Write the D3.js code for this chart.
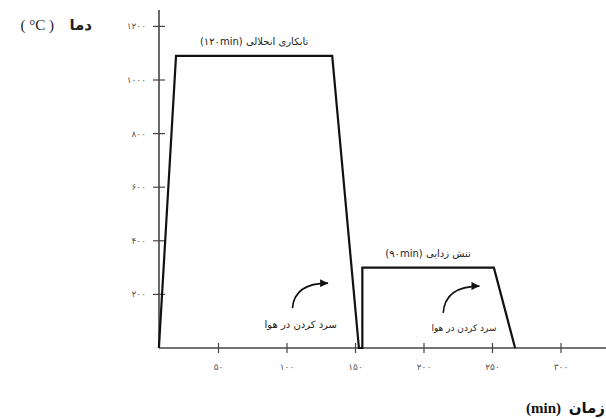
<!DOCTYPE html>
<html>
<head>
<meta charset="utf-8">
<script src="https://cdn.jsdelivr.net/npm/d3@7"></script>
<style>
  body { margin: 0; background: #fff; }
  svg { display: block; font-family: "DejaVu Sans", sans-serif; }
  .tick_lbl { fill: #555; font-size: 9px; }
  .note { fill: #222; }
</style>
</head>
<body>
<svg id="chart" width="606" height="419"></svg>
<script>
// heat treatment cycle
var phaseTime = [6.5, 19, 133, 152.5, 155, 155, 251, 266.5]
var phaseTemp = [0, 1090, 1090, 0, 0, 300, 300, 0]

var xTicks = [50, 100, 150, 200, 250, 300]
var yTicks = [200, 400, 600, 800, 1000, 1200]

var stageNames = ["تابکاری انحلالی (۱۲۰min)", "تنش زدایی (۹۰min)"]
var stagePlateau = [[1, 2], [5, 6]]   // indices into phaseTime
var coolText = "سرد کردن در هوا"
var coolTextAt = [[136.5, 75], [253, 64]]
var arrowFrom = [[104, 149], [214, 131]]
var arrowTo = [[130, 242], [240.5, 231]]

var W = 606, H = 419
var svg = d3.select("#chart")
svg.append("rect").attr("width", W).attr("height", H).attr("fill", "#fff")

var x = d3.scaleLinear().domain([0, 300]).range([150, 561])
var y = d3.scaleLinear().domain([0, 1000]).range([348, 80])
var axisX = 159 // y axis sits where the curve starts

// toPersian digits
var fa = "۰۱۲۳۴۵۶۷۸۹"
function faNum(n) { return String(n).replace(/\d/g, c => fa[+c]) }

// x axis
var gx = svg.append("g").attr("transform", "translate(0," + y(0) + ")")
gx.append("line").attr("x1", axisX).attr("x2", W).attr("stroke", "#444").attr("stroke-width", 1.6)
gx.selectAll("line.tk").data(xTicks).join("line").attr("class", "tk")
  .attr("x1", d => x(d)).attr("x2", d => x(d)).attr("y1", -5).attr("y2", 5)
  .attr("stroke", "#444").attr("stroke-width", 1.2)
gx.selectAll("text").data(xTicks).join("text").attr("class", "tick_lbl")
  .attr("x", d => x(d)).attr("y", 22).attr("text-anchor", "middle")
  .text(d => faNum(d))

// y axis
var gy = svg.append("g").attr("transform", "translate(" + axisX + ",0)")
gy.append("line").attr("y1", 10).attr("y2", y(0)).attr("stroke", "#444").attr("stroke-width", 1.6)
gy.selectAll("line.tk").data(yTicks).join("line").attr("class", "tk")
  .attr("y1", d => y(d)).attr("y2", d => y(d)).attr("x1", -6).attr("x2", 6)
  .attr("stroke", "#444").attr("stroke-width", 1.2)
gy.selectAll("text").data(yTicks).join("text").attr("class", "tick_lbl")
  .attr("x", -13).attr("y", d => y(d) + 3).attr("text-anchor", "end")
  .text(d => faNum(d))

// the cycle
var pts = phaseTime.map((t, i) => [t, phaseTemp[i]])
svg.append("path").datum(pts)
  .attr("fill", "none").attr("stroke", "#111").attr("stroke-width", 2.2)
  .attr("stroke-linejoin", "miter")
  .attr("d", d3.line().x(d => x(d[0])).y(d => y(d[1])))

// stage labels over plateaus
svg.selectAll("text.stage").data(stageNames).join("text").attr("class", "stage note")
  .attr("direction", "rtl").attr("text-anchor", "middle").attr("font-size", 10)
  .attr("x", (d, i) => x((phaseTime[stagePlateau[i][0]] + phaseTime[stagePlateau[i][1]]) / 2))
  .attr("y", (d, i) => y(phaseTemp[stagePlateau[i][0]]) - 11)
  .text(d => d)

// cooling notes
svg.selectAll("text.cool").data(coolTextAt).join("text").attr("class", "cool note")
  .attr("direction", "rtl").attr("text-anchor", "start")
  .attr("font-size", (d, i) => i ? 9 : 10)
  .attr("x", d => x(d[0])).attr("y", d => y(d[1]))
  .text(coolText)

svg.append("defs").append("marker").attr("id", "head")
  .attr("viewBox", "0 0 10 10").attr("refX", 10).attr("refY", 5)
  .attr("markerWidth", 10).attr("markerHeight", 8).attr("markerUnits", "userSpaceOnUse")
  .attr("orient", "auto")
  .append("path").attr("d", "M0,0 L10,5 L0,10 z").attr("fill", "#111")

svg.selectAll("path.arrow").data(arrowFrom).join("path").attr("class", "arrow")
  .attr("fill", "none").attr("stroke", "#111").attr("stroke-width", 1.6)
  .attr("marker-end", "url(#head)")
  .attr("d", (d, i) => {
    var p = d3.path()
    var x0 = x(d[0]), y0 = y(d[1]), x1 = x(arrowTo[i][0]), y1 = y(arrowTo[i][1])
    p.moveTo(x0, y0)
    p.quadraticCurveTo(x0 + 2, y1, x1, y1)
    return p.toString()
  })

// axis titles
var yt = svg.append("g").attr("fill", "#222")
yt.append("text").attr("x", 92).attr("y", 30).attr("text-anchor", "end")
  .attr("font-weight", "bold").attr("font-size", 15).text("دما")
yt.append("text").attr("x", 54).attr("y", 30).attr("text-anchor", "end")
  .attr("font-family", "Liberation Serif").attr("font-size", 15).text("( °C )")

var xt = svg.append("g").attr("font-size", 15).attr("font-weight", "bold").attr("fill", "#111")
xt.append("text").attr("x", 605).attr("y", 413).attr("text-anchor", "end").text("زمان")
xt.append("text").attr("x", 561).attr("y", 413).attr("text-anchor", "end")
  .attr("font-family", "Liberation Serif").text("(min)")
</script>
</body>
</html>
